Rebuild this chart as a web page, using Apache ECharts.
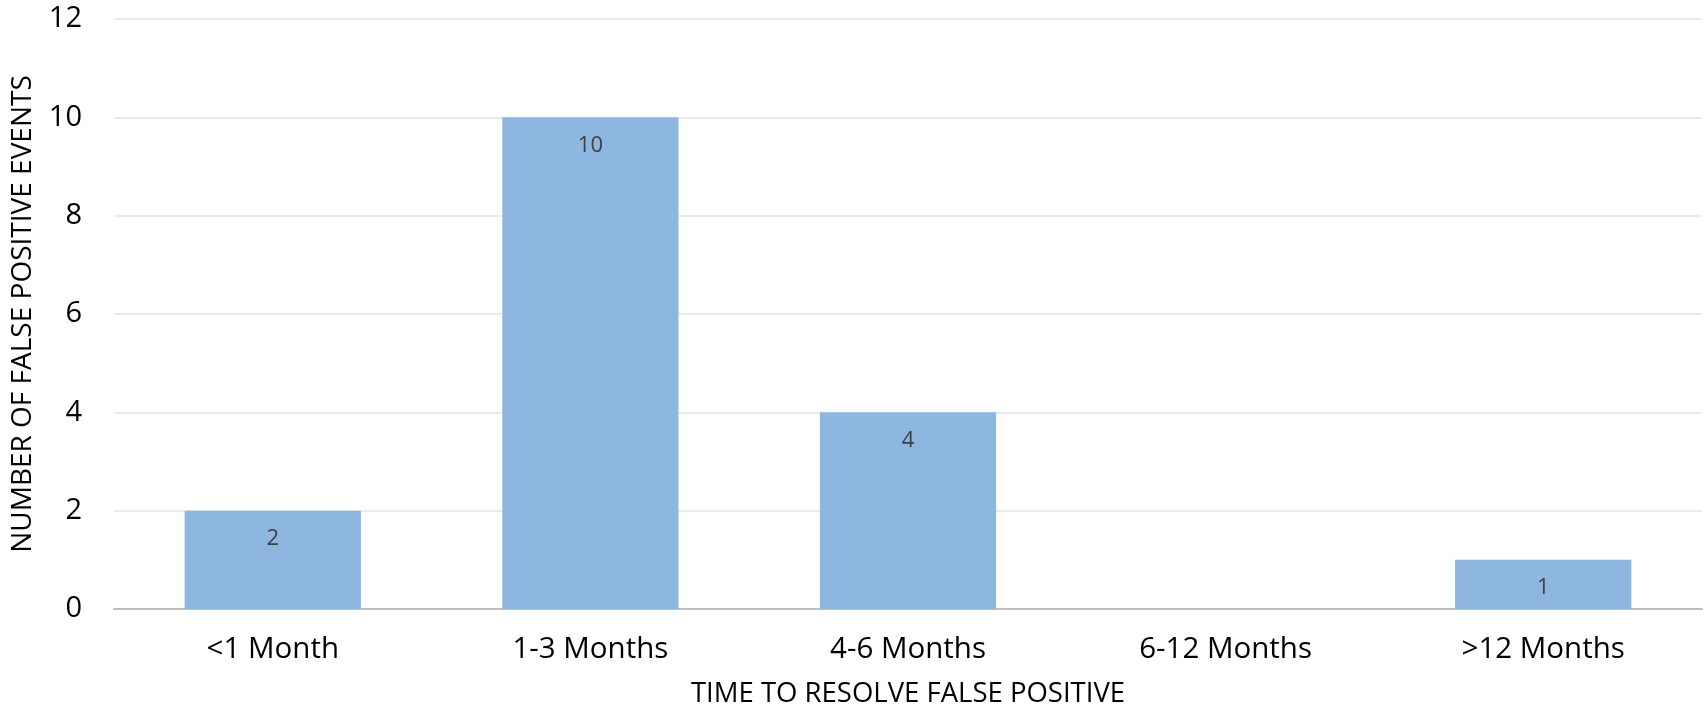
<!DOCTYPE html>
<html>
<head>
<meta charset="utf-8">
<script src="https://cdn.jsdelivr.net/npm/echarts@6/dist/echarts.min.js"></script>
<style>
  html, body { margin: 0; padding: 0; background: #ffffff; }
  #chart { width: 1706px; height: 712px; }
</style>
</head>
<body>
<div id="chart"></div>
<script>
// Time taken to resolve false positive events
const categories = ['<1 Month', '1-3 Months', '4-6 Months', '6-12 Months', '>12 Months'];
const eventCounts = [2, 10, 4, 0, 1];
const yTicks = { min: 0, max: 12, interval: 2 };

const FONT = '"Open Sans", "Liberation Sans", sans-serif';

const chart = echarts.init(document.getElementById('chart'), null, { renderer: 'canvas' });
chart.setOption({
  animation: false,
  backgroundColor: '#ffffff',
  grid: { left: 114, right: 4, top: 19, bottom: 103, containLabel: false, outerBoundsMode: 'none' },
  xAxis: {
    type: 'category',
    data: categories,
    name: 'TIME TO RESOLVE FALSE POSITIVE',
    nameLocation: 'middle',
    nameGap: 71,
    nameTextStyle: { fontFamily: FONT, fontSize: 27.5, color: '#000000' },
    axisLine: { show: true, lineStyle: { color: '#BFBFBF', width: 2 } },
    axisTick: { show: false },
    axisLabel: { fontFamily: FONT, fontSize: 29.5, color: '#000000', margin: 26 }
  },
  yAxis: {
    type: 'value',
    min: yTicks.min,
    max: yTicks.max,
    interval: yTicks.interval,
    name: 'NUMBER OF FALSE POSITIVE EVENTS',
    nameLocation: 'middle',
    nameRotate: 90,
    nameGap: 77,
    nameTextStyle: { fontFamily: FONT, fontSize: 28, color: '#000000' },
    axisLine: { show: false },
    axisTick: { show: false },
    axisLabel: { fontFamily: FONT, fontSize: 29, color: '#000000', margin: 32 },
    splitLine: { show: true, lineStyle: { color: '#EBEBEB', width: 2 } }
  },
  series: [{
    type: 'bar',
    data: eventCounts.map(v => v === 0 ? null : v),
    barWidth: '55.5%',
    itemStyle: { color: '#8DB7E0' },
    label: {
      show: true,
      position: 'insideTop',
      distance: 17,
      fontFamily: FONT,
      fontSize: 22,
      color: '#404040'
    }
  }]
});
</script>
</body>
</html>
